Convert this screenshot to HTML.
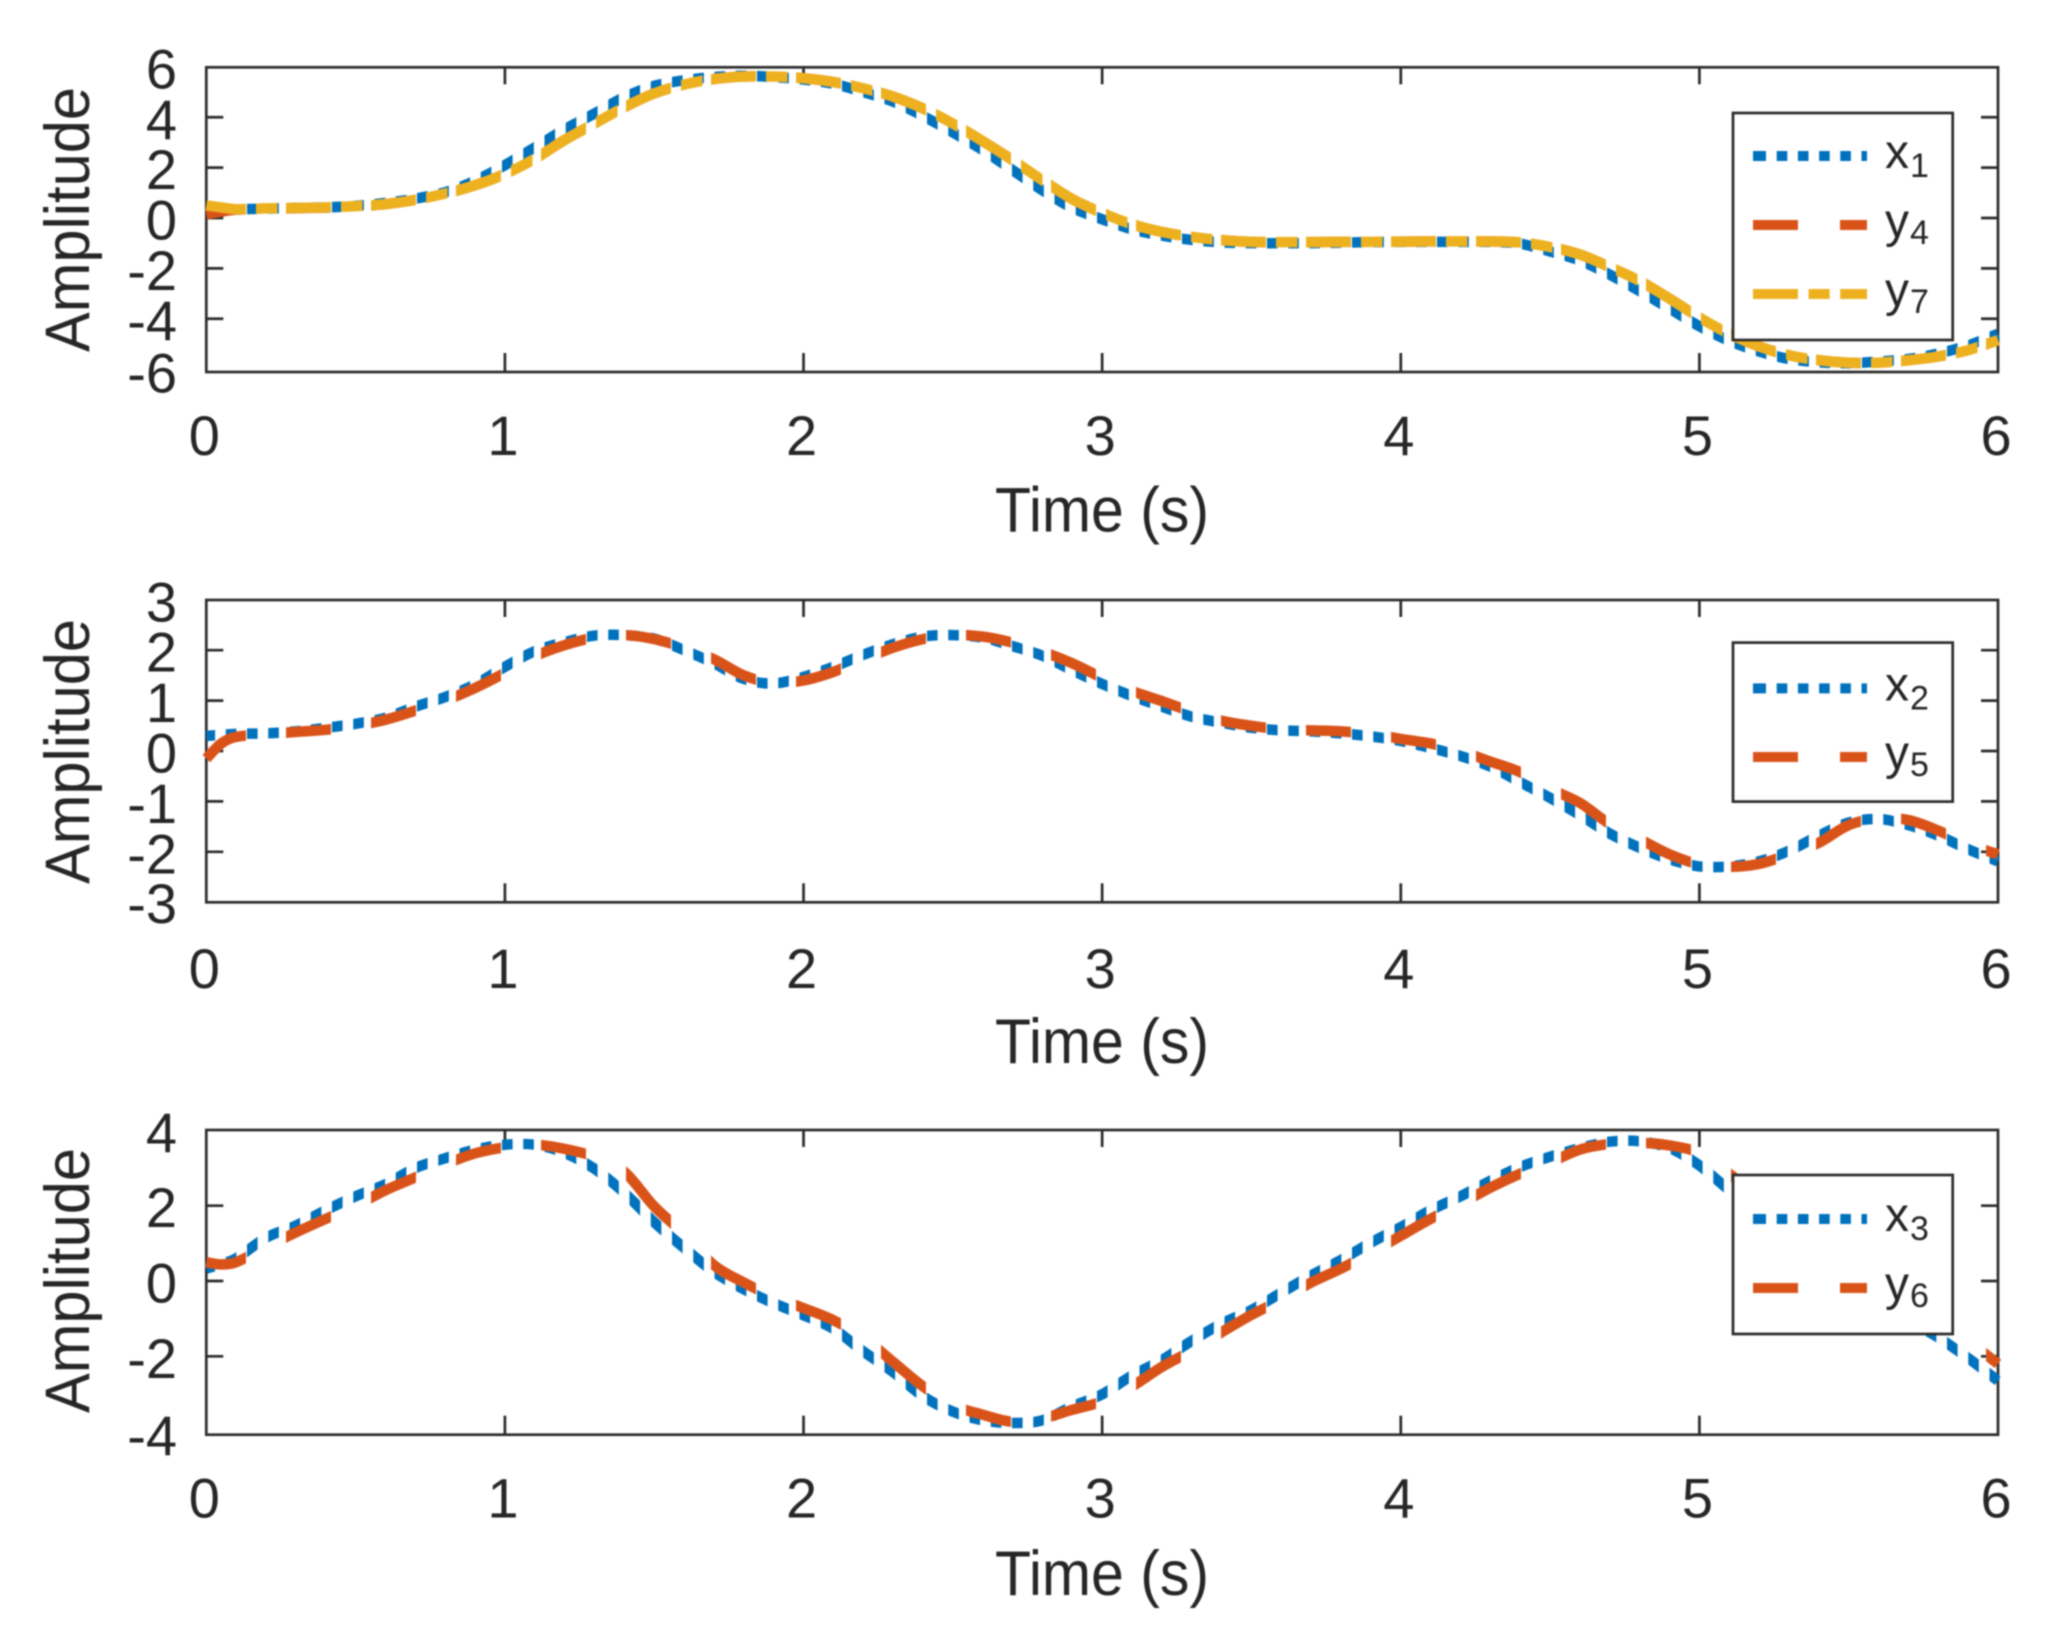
<!DOCTYPE html>
<html lang="en">
<head>
<meta charset="utf-8">
<title>Amplitude over time</title>
<style>
html,body{margin:0;padding:0;background:#fff;}
svg{display:block;filter:blur(0.7px);}
text{font-family:"Liberation Sans",Arial,sans-serif;fill:#262626;}
.frame{fill:none;stroke:#2b2b2b;stroke-width:2.7;}
.tick{stroke:#2b2b2b;stroke-width:2.7;}
.title{font-size:63px;}
.tl{font-size:56px;}
.lg{font-size:48px;}
.sub{font-size:34px;}
.box{fill:#fff;stroke:#2b2b2b;stroke-width:2.7;}
.sample{fill:none;stroke-width:10;}
</style>
</head>
<body>
<svg id="chart" xmlns="http://www.w3.org/2000/svg" width="2062" height="1640" viewBox="0 0 2062 1640">
  <defs id="defs"></defs>
  <rect x="0" y="0" width="2062" height="1640" fill="#fff"/>

  <g><rect class="frame" x="206.3" y="67.3" width="1791.7" height="304.7"/></g>
  <g><rect class="frame" x="206.3" y="600" width="1791.7" height="302.3"/></g>
  <g><rect class="frame" x="206.3" y="1130" width="1791.7" height="304.7"/></g>

  <g id="tickLayer"></g>
  <g id="seriesLayer"></g>

  <text class="title" x="995" y="531.7" textLength="214" lengthAdjust="spacingAndGlyphs">Time (s)</text>
  <text class="title" x="995" y="1063" textLength="214" lengthAdjust="spacingAndGlyphs">Time (s)</text>
  <text class="title" x="995" y="1595" textLength="214" lengthAdjust="spacingAndGlyphs">Time (s)</text>
  <text class="title" transform="translate(89,352) rotate(-90)" textLength="265" lengthAdjust="spacingAndGlyphs">Amplitude</text>
  <text class="title" transform="translate(89,884) rotate(-90)" textLength="265" lengthAdjust="spacingAndGlyphs">Amplitude</text>
  <text class="title" transform="translate(89,1413) rotate(-90)" textLength="265" lengthAdjust="spacingAndGlyphs">Amplitude</text>

  <g>
    <rect class="box" x="1733" y="113" width="219.7" height="227"/>
    <line class="sample" x1="1753" x2="1867" y1="156" y2="156" stroke="#0072BD" stroke-dasharray="13 10.7 10.6 10.6 10.6 10.6 10.6 10.6 10.6 10.6 5.5"/>
    <text class="lg" x="1885" y="168">x<tspan class="sub" dx="1" dy="9">1</tspan></text>
    <line class="sample" x1="1753" x2="1867" y1="225" y2="225" stroke="#D95319" stroke-dasharray="45 42 27"/>
    <text class="lg" x="1885" y="237">y<tspan class="sub" dx="1" dy="7">4</tspan></text>
    <line class="sample" x1="1753" x2="1867" y1="294" y2="294" stroke="#EDB120" stroke-dasharray="45 10.6 21 10.6 27"/>
    <text class="lg" x="1885" y="306">y<tspan class="sub" dx="1" dy="7">7</tspan></text>
  </g>

  <g>
    <rect class="box" x="1733" y="642.6" width="219.7" height="159"/>
    <line class="sample" x1="1753" x2="1867" y1="688.4" y2="688.4" stroke="#0072BD" stroke-dasharray="13 10.7 10.6 10.6 10.6 10.6 10.6 10.6 10.6 10.6 5.5"/>
    <text class="lg" x="1885" y="700.4">x<tspan class="sub" dx="1" dy="9">2</tspan></text>
    <line class="sample" x1="1753" x2="1867" y1="757" y2="757" stroke="#D95319" stroke-dasharray="45 42 27"/>
    <text class="lg" x="1885" y="769">y<tspan class="sub" dx="1" dy="7">5</tspan></text>
  </g>

  <g>
    <rect class="box" x="1733" y="1175" width="219.7" height="159"/>
    <line class="sample" x1="1753" x2="1867" y1="1219" y2="1219" stroke="#0072BD" stroke-dasharray="13 10.7 10.6 10.6 10.6 10.6 10.6 10.6 10.6 10.6 5.5"/>
    <text class="lg" x="1885" y="1231">x<tspan class="sub" dx="1" dy="9">3</tspan></text>
    <line class="sample" x1="1753" x2="1867" y1="1288" y2="1288" stroke="#D95319" stroke-dasharray="45 42 27"/>
    <text class="lg" x="1885" y="1300">y<tspan class="sub" dx="1" dy="7">6</tspan></text>
  </g>
</svg>
<script>
var times = [0,0.05,0.1,0.2,0.3,0.4,0.5,0.6,0.7,0.8,0.9,1,1.1,1.2,1.3,1.4,1.5,1.6,1.7,1.8,1.9,2,2.1,2.2,2.3,2.4,2.5,2.6,2.7,2.8,2.9,3,3.1,3.2,3.3,3.4,3.5,3.6,3.7,3.8,3.9,4,4.1,4.2,4.3,4.4,4.5,4.6,4.7,4.8,4.9,5,5.1,5.2,5.3,5.4,5.5,5.6,5.7,5.8,5.9,6];

var seriesX1 = [0.25,0.3,0.34,0.37,0.4,0.42,0.48,0.6,0.77,1.02,1.48,2.1,2.8,3.52,4.15,4.8,5.25,5.47,5.6,5.65,5.6,5.5,5.33,5,4.62,4.05,3.4,2.7,1.9,1.1,0.4,-0.05,-0.45,-0.7,-0.87,-0.97,-1,-1,-1,-0.98,-0.96,-0.95,-0.95,-0.95,-0.95,-1.02,-1.33,-1.69,-2.25,-2.9,-3.6,-4.3,-4.88,-5.3,-5.6,-5.73,-5.77,-5.7,-5.6,-5.38,-5.06,-4.6];
var seriesY4 = [0.15,0.25,0.33,0.37,0.39,0.41,0.46,0.55,0.72,0.97,1.3,1.75,2.35,3.1,3.75,4.4,4.95,5.3,5.52,5.62,5.62,5.55,5.4,5.15,4.82,4.35,3.75,3.05,2.3,1.5,0.75,0.2,-0.25,-0.55,-0.75,-0.88,-0.95,-0.96,-0.96,-0.95,-0.95,-0.94,-0.93,-0.93,-0.93,-0.97,-1.15,-1.45,-1.95,-2.5,-3.2,-3.95,-4.6,-5.1,-5.45,-5.65,-5.75,-5.75,-5.65,-5.5,-5.25,-4.85];
var seriesY7 = [0.5,0.42,0.35,0.38,0.4,0.42,0.47,0.55,0.72,0.97,1.3,1.75,2.35,3.1,3.75,4.4,4.95,5.3,5.52,5.62,5.62,5.55,5.4,5.15,4.82,4.35,3.75,3.05,2.3,1.5,0.75,0.2,-0.25,-0.55,-0.75,-0.88,-0.95,-0.96,-0.96,-0.95,-0.95,-0.94,-0.93,-0.93,-0.93,-0.97,-1.15,-1.45,-1.95,-2.5,-3.2,-3.95,-4.6,-5.1,-5.45,-5.65,-5.75,-5.75,-5.65,-5.5,-5.25,-4.85];

var seriesX2 = [0.3,0.32,0.34,0.35,0.39,0.46,0.54,0.66,0.88,1.07,1.32,1.67,1.98,2.16,2.29,2.3,2.23,2,1.74,1.43,1.34,1.47,1.67,1.91,2.12,2.27,2.3,2.25,2.08,1.89,1.6,1.33,1.09,0.88,0.68,0.56,0.46,0.41,0.39,0.35,0.29,0.2,0.06,-0.1,-0.31,-0.62,-0.93,-1.27,-1.64,-1.92,-2.15,-2.29,-2.29,-2.19,-1.98,-1.68,-1.42,-1.35,-1.47,-1.68,-1.95,-2.19];
var seriesY5 = [-0.15,0.15,0.28,0.33,0.38,0.42,0.5,0.62,0.8,1,1.25,1.55,1.88,2.1,2.25,2.3,2.22,2.05,1.82,1.5,1.35,1.4,1.57,1.82,2.05,2.22,2.3,2.27,2.15,1.97,1.74,1.45,1.19,0.99,0.78,0.6,0.5,0.43,0.41,0.39,0.34,0.24,0.15,0,-0.21,-0.42,-0.75,-1.03,-1.45,-1.75,-2.05,-2.25,-2.3,-2.24,-2.05,-1.82,-1.47,-1.34,-1.37,-1.58,-1.85,-2.05];

var seriesX3 = [0.33,0.45,0.6,1.15,1.47,1.88,2.25,2.57,3,3.26,3.49,3.62,3.62,3.4,2.98,2.34,1.56,0.88,0.24,-0.22,-0.59,-0.91,-1.27,-1.87,-2.42,-3.06,-3.47,-3.7,-3.77,-3.7,-3.33,-3.01,-2.51,-2.1,-1.59,-1.13,-0.77,-0.31,0.15,0.56,1.02,1.43,1.88,2.25,2.66,3.03,3.3,3.53,3.7,3.71,3.53,3.07,2.41,1.8,1.15,0.55,-0.05,-0.55,-1.05,-1.5,-2.05,-2.65];
var seriesY6 = [0.5,0.44,0.5,0.9,1.29,1.65,2,2.41,2.75,3.1,3.39,3.55,3.62,3.51,3.3,2.9,1.98,1.25,0.42,-0.04,-0.42,-0.72,-1.04,-1.5,-2.15,-2.8,-3.3,-3.55,-3.74,-3.65,-3.42,-3.2,-2.8,-2.28,-1.85,-1.36,-0.9,-0.5,-0.04,0.33,0.75,1.2,1.65,2.05,2.48,2.85,3.15,3.49,3.64,3.67,3.6,3.4,2.85,2.2,1.55,0.95,0.35,-0.15,-0.65,-1.1,-1.6,-2.2];

var xTickValues = [0,1,2,3,4,5,6];
var xTickLabels = ['0','1','2','3','4','5','6'];
var topYTickValues = [6,4,2,0,-2,-4,-6];
var topYTickLabels = ['6','4','2','0','-2','-4','-6'];
var midYTickValues = [3,2,1,0,-1,-2,-3];
var midYTickLabels = ['3','2','1','0','-1','-2','-3'];
var botYTickValues = [4,2,0,-2,-4];
var botYTickLabels = ['4','2','0','-2','-4'];

var NS = 'http://www.w3.org/2000/svg';
var tickLayer = document.getElementById('tickLayer');
var seriesLayer = document.getElementById('seriesLayer');
var defs = document.getElementById('defs');

function make(tag, attrs, parent) {
  var el = document.createElementNS(NS, tag);
  for (var k in attrs) { el.setAttribute(k, attrs[k]); }
  parent.appendChild(el);
  return el;
}

function xScale(t) { return 206.3 + 298.62 * t; }

function stripeClip(id, period, origin, pieces) {
  var cp = make('clipPath', { id: id }, defs);
  for (var x = origin; x < 2020; x += period) {
    pieces.forEach(function (p) {
      make('rect', { x: x + p[0], y: 0, width: p[1], height: 1640 }, cp);
    });
  }
}
stripeClip('clip-dotted', 21.25, 204.5, [[0, 10.6]]);
stripeClip('clip-dashed', 85, 201, [[0, 45]]);
stripeClip('clip-dashdot', 85, 201, [[0, 45], [55, 21.5]]);

function curvePath(values, yScale) {
  var pts = times.map(function (t, i) { return [xScale(t), yScale(values[i])]; });
  var d = 'M' + pts[0][0].toFixed(2) + ' ' + pts[0][1].toFixed(2);
  for (var i = 0; i < pts.length - 1; i++) {
    var p0 = pts[Math.max(i - 1, 0)], p1 = pts[i], p2 = pts[i + 1], p3 = pts[Math.min(i + 2, pts.length - 1)];
    var dx = p2[0] - p1[0];
    var m1 = (p2[1] - p0[1]) / (p2[0] - p0[0]);
    var m2 = (p3[1] - p1[1]) / (p3[0] - p1[0]);
    d += 'C' + (p1[0] + dx / 3).toFixed(2) + ' ' + (p1[1] + m1 * dx / 3).toFixed(2) + ' ' +
         (p2[0] - dx / 3).toFixed(2) + ' ' + (p2[1] - m2 * dx / 3).toFixed(2) + ' ' +
         p2[0].toFixed(2) + ' ' + p2[1].toFixed(2);
  }
  return d;
}

function drawSeries(values, yScale, color, clipId, name) {
  var g = make('g', { 'clip-path': 'url(#' + clipId + ')' }, seriesLayer);
  var el = make('path', { d: curvePath(values, yScale), fill: 'none', stroke: color, 'stroke-width': 10.5, 'stroke-linejoin': 'round' }, g);
  
  
}

function drawTicks(panel, yScale, yVals, yLabels, top, bottom, xLabelGap) {
  xTickValues.forEach(function (t, i) {
    var x = xScale(t);
    if (t > 0 && t < 6) {
      var a = make('line', { class: 'tick', x1: x, x2: x, y1: top, y2: top + 17 }, tickLayer);
      
      
      var b = make('line', { class: 'tick', x1: x, x2: x, y1: bottom, y2: bottom - 19 }, tickLayer);
      
      
    }
    var lab = make('text', { class: 'tl', x: x - 2, y: bottom + xLabelGap, 'text-anchor': 'middle' }, tickLayer);
    lab.textContent = xTickLabels[i];
    
    
  });
  yVals.forEach(function (v, i) {
    var y = yScale(v);
    var isEnd = (i === 0 || i === yVals.length - 1);
    if (!isEnd) {
      var l = make('line', { class: 'tick', x1: 206.3, x2: 223.3, y1: y, y2: y }, tickLayer);
      
      
      var r = make('line', { class: 'tick', x1: 1998, x2: 1981, y1: y, y2: y }, tickLayer);
      
      
    }
    var base = (i === yVals.length - 1) ? bottom + 20.5 : y + 21.5;
    var lab = make('text', { class: 'tl', x: 177, y: base, 'text-anchor': 'end' }, tickLayer);
    lab.textContent = yLabels[i];
    
    
  });
}

function yTop(v) { return 218 - 25.18 * v; }
function yMid(v) { return 751 - 50.4 * v; }
function yBot(v) { return 1281 - 37.65 * v; }

drawTicks('top', yTop, topYTickValues, topYTickLabels, 67.3, 372, 83);
drawTicks('middle', yMid, midYTickValues, midYTickLabels, 600, 902.3, 85.7);
drawTicks('bottom', yBot, botYTickValues, botYTickLabels, 1130, 1434.7, 83);

drawSeries(seriesX1, yTop, '#0072BD', 'clip-dotted', 'series-x1');
drawSeries(seriesY4, yTop, '#D95319', 'clip-dashed', 'series-y4');
drawSeries(seriesY7, yTop, '#EDB120', 'clip-dashdot', 'series-y7');
drawSeries(seriesX2, yMid, '#0072BD', 'clip-dotted', 'series-x2');
drawSeries(seriesY5, yMid, '#D95319', 'clip-dashed', 'series-y5');
drawSeries(seriesX3, yBot, '#0072BD', 'clip-dotted', 'series-x3');
drawSeries(seriesY6, yBot, '#D95319', 'clip-dashed', 'series-y6');
</script>
</body>
</html>
